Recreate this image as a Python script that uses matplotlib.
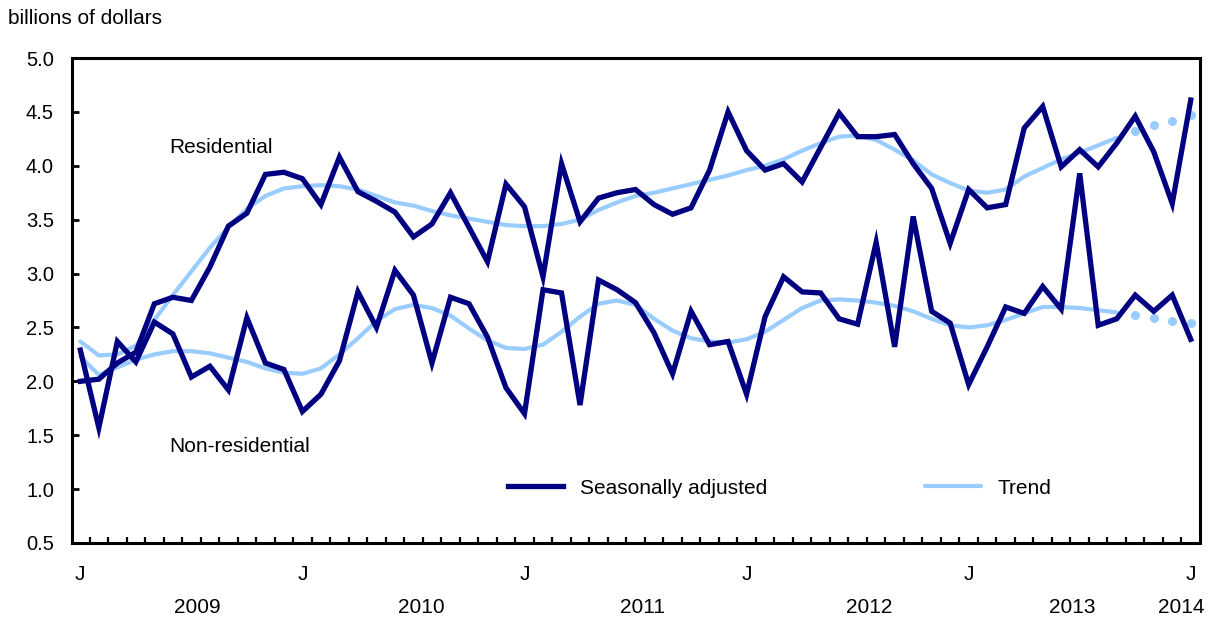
import numpy as np
import matplotlib
matplotlib.use('Agg')
import matplotlib.pyplot as plt
import matplotlib.transforms as mtransforms

plt.rcParams['font.family'] = ['Liberation Sans', 'DejaVu Sans']

# months from January 2009 to January 2014
months = np.arange(61)

res_sa = [2.00, 2.02, 2.17, 2.27, 2.72, 2.78, 2.75, 3.06, 3.44, 3.56,
          3.92, 3.94, 3.88, 3.64, 4.08, 3.76, 3.67, 3.57, 3.34, 3.46,
          3.75, 3.43, 3.11, 3.83, 3.62, 2.97, 4.02, 3.48, 3.70, 3.75,
          3.78, 3.64, 3.55, 3.61, 3.96, 4.50, 4.14, 3.96, 4.02, 3.85,
          4.17, 4.49, 4.27, 4.27, 4.29, 4.02, 3.79, 3.28, 3.78, 3.61,
          3.64, 4.35, 4.55, 3.99, 4.15, 3.99, 4.21, 4.46, 4.13, 3.65,
          4.61]
res_trend = [2.37, 2.24, 2.25, 2.33, 2.57, 2.80, 3.02, 3.24, 3.43, 3.60,
             3.72, 3.79, 3.81, 3.82, 3.81, 3.78, 3.72, 3.66, 3.63, 3.58,
             3.54, 3.51, 3.48, 3.45, 3.44, 3.44, 3.46, 3.50, 3.59, 3.66,
             3.72, 3.75, 3.79, 3.83, 3.87, 3.91, 3.96, 4.00, 4.06, 4.14,
             4.21, 4.27, 4.28, 4.24, 4.15, 4.05, 3.92, 3.84, 3.77, 3.75,
             3.78, 3.90, 3.98, 4.06, 4.12, 4.19, 4.26, 4.32, 4.38, 4.42,
             4.47]
non_sa = [2.29, 1.57, 2.37, 2.18, 2.55, 2.44, 2.04, 2.14, 1.92, 2.59,
          2.17, 2.11, 1.72, 1.88, 2.19, 2.83, 2.50, 3.03, 2.80, 2.17,
          2.78, 2.72, 2.41, 1.94, 1.70, 2.85, 2.82, 1.78, 2.94, 2.85,
          2.73, 2.45, 2.07, 2.65, 2.34, 2.37, 1.88, 2.60, 2.97, 2.83,
          2.82, 2.58, 2.53, 3.29, 2.32, 3.53, 2.65, 2.54, 1.97, 2.32,
          2.69, 2.63, 2.88, 2.67, 3.93, 2.52, 2.58, 2.80, 2.65, 2.80,
          2.39]
non_trend = [2.23, 2.06, 2.13, 2.20, 2.25, 2.28, 2.28, 2.26, 2.22, 2.18,
             2.12, 2.08, 2.07, 2.12, 2.25, 2.40, 2.56, 2.67, 2.71, 2.68,
             2.61, 2.49, 2.38, 2.31, 2.30, 2.34, 2.46, 2.60, 2.72, 2.75,
             2.71, 2.58, 2.47, 2.40, 2.37, 2.36, 2.39, 2.46, 2.57, 2.68,
             2.75, 2.76, 2.75, 2.73, 2.70, 2.65, 2.58, 2.52, 2.50, 2.52,
             2.57, 2.63, 2.69, 2.69, 2.68, 2.66, 2.64, 2.62, 2.59, 2.56,
             2.54]
n_prelim = 4  # last months of the trend shown as dots

j_ticks = [0, 12, 24, 36, 48, 60]
year_labels = ['2009', '2010', '2011', '2012', '2013', '2014']
year_pos = [6.3, 18.4, 30.4, 42.6, 53.6, 59.5]

dark = '#000080'
light = '#99ccff'
fs = 15

fig = plt.figure(figsize=(12.09, 6.17), dpi=100)
ax = fig.add_axes([72 / 1209, 1 - 543 / 617, 1128 / 1209, 485 / 617])

cut = len(months) - n_prelim
for trend in (res_trend, non_trend):
    t = np.array(trend)
    ln_tr, = ax.plot(months[:cut], t[:cut], color=light, lw=3.0, solid_capstyle='round', zorder=2)
    ax.plot(months[cut:], t[cut:], 'o', color=light, ms=6.5, mec='none', zorder=2)
for sa in (res_sa, non_sa):
    ln_sa, = ax.plot(months, sa, color=dark, lw=3.8, solid_joinstyle='miter', zorder=3)

ax.set_xlim(-0.45, 60.5)
ax.set_ylim(0.5, 5.0)
ax.set_yticks(np.arange(0.5, 5.01, 0.5))
ax.set_yticklabels([f'{v:.1f}' for v in np.arange(0.5, 5.01, 0.5)])
ax.set_xticks(j_ticks)
ax.set_xticklabels(['J'] * len(j_ticks))
ax.set_xticks(np.arange(0.5, 60, 1), minor=True)

ax.tick_params(axis='y', direction='in', length=5, width=2, labelsize=14.5, pad=13)
ax.tick_params(axis='x', which='major', length=0, labelsize=fs, pad=16)
ax.tick_params(axis='x', which='minor', direction='in', length=4.5, width=1.6)
for s in ax.spines.values():
    s.set_linewidth(2.2)

trans = mtransforms.blended_transform_factory(ax.transData, ax.transAxes)
for lab, xp in zip(year_labels, year_pos):
    ax.text(xp, -0.132, lab, transform=trans, ha='center', va='center', fontsize=fs)

ax.text(4.8, 4.17, 'Residential', ha='left', va='center', fontsize=fs)
ax.text(4.8, 1.40, 'Non-residential', ha='left', va='center', fontsize=fs)

fig.text(8 / 1209, 1 - 18 / 617, 'billions of dollars', ha='left', va='center', fontsize=fs)

ax.legend([ln_sa, ln_tr], ['Seasonally adjusted', 'Trend'], ncol=2, frameon=False,
          loc='center left', bbox_to_anchor=(508 / 1209, 1 - 488 / 617),
          bbox_transform=fig.transFigure, borderpad=0, borderaxespad=0,
          handlelength=2.65, handletextpad=0.8, columnspacing=7.6, fontsize=fs)

fig.savefig('out.png', dpi=100)
